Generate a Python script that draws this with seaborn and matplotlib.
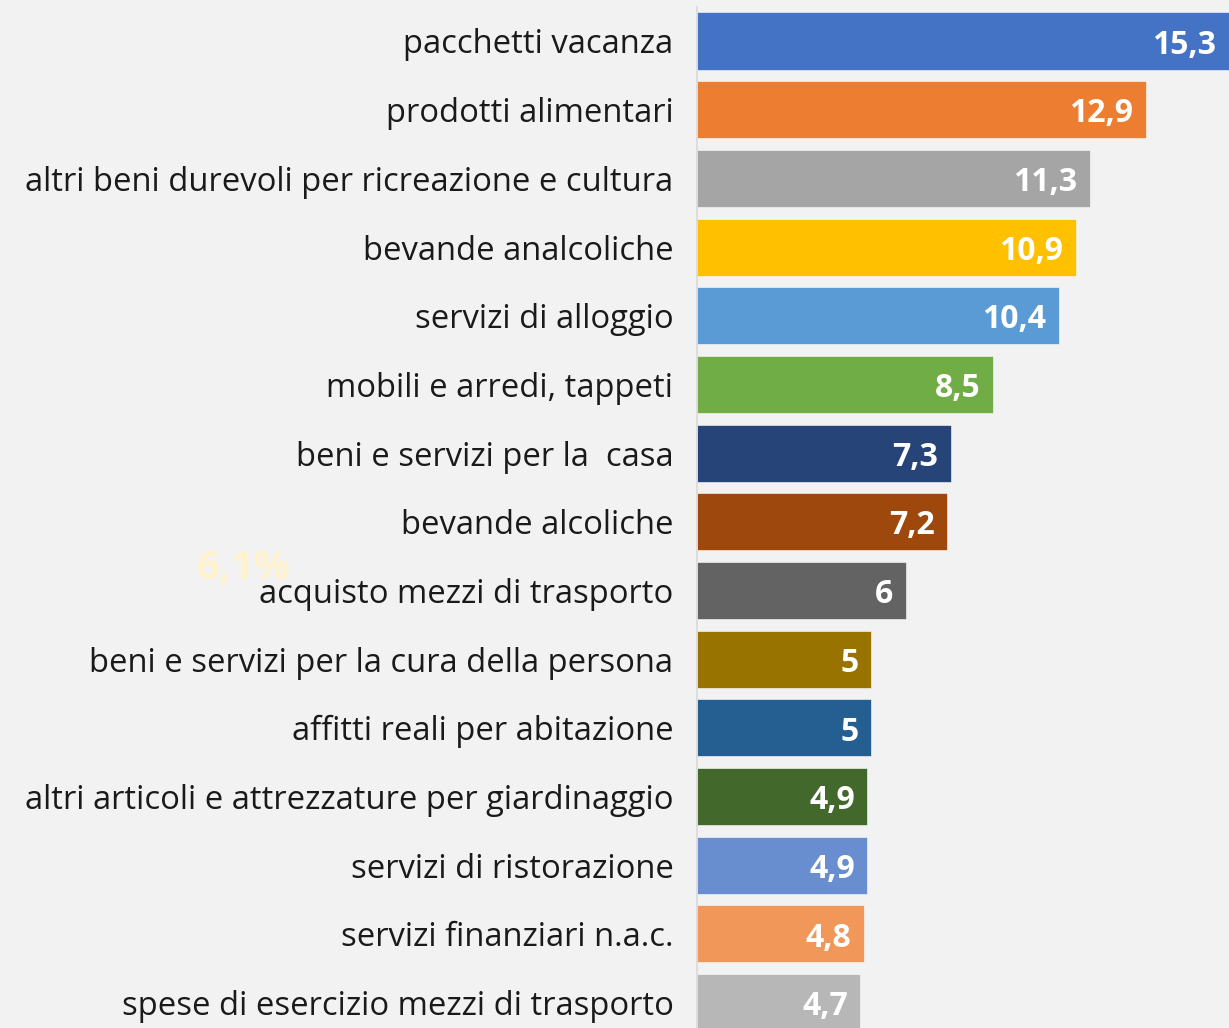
import matplotlib
matplotlib.use("Agg")
import matplotlib.pyplot as plt
import seaborn as sns
import pandas as pd

categories = [
    "pacchetti vacanza",
    "prodotti alimentari",
    "altri beni durevoli per ricreazione e cultura",
    "bevande analcoliche",
    "servizi di alloggio",
    "mobili e arredi, tappeti",
    "beni e servizi per la  casa",
    "bevande alcoliche",
    "acquisto mezzi di trasporto",
    "beni e servizi per la cura della persona",
    "affitti reali per abitazione",
    "altri articoli e attrezzature per giardinaggio",
    "servizi di ristorazione",
    "servizi finanziari n.a.c.",
    "spese di esercizio mezzi di trasporto",
]
values = [15.3, 12.9, 11.3, 10.9, 10.4, 8.5, 7.3, 7.2, 6, 5, 5, 4.9, 4.9, 4.8, 4.7]
colors = ["#4472C4", "#ED7D31", "#A5A5A5", "#FFC000", "#5B9BD5", "#70AD47",
          "#264478", "#9E480E", "#636363", "#997300", "#255E91", "#43682B",
          "#698ED0", "#F1975A", "#B7B7B7"]

sns.set_style("white")
plt.rcParams["font.family"] = ["Open Sans", "DejaVu Sans"]

df = pd.DataFrame({"cat": categories, "val": values})

fig = plt.figure(figsize=(12.29, 10.28), dpi=100, facecolor="#F2F2F2")
ax = fig.add_axes([697 / 1229, 0.0, 1 - 697 / 1229, 1 - 7 / 1028])
ax.set_facecolor("#F2F2F2")

sns.barplot(data=df, y="cat", x="val", hue="cat", palette=colors, legend=False,
            orient="h", width=0.83, ax=ax, saturation=1,
            edgecolor="#FFFFFF", linewidth=0.4)

ax.set_xlim(0, 15.3)
ax.set_ylim(14.37, -0.495)
ax.set_xlabel("")
ax.set_ylabel("")
ax.set_xticks([])
for s in ["top", "right", "bottom"]:
    ax.spines[s].set_visible(False)
ax.spines["left"].set_color("#D9D9D9")
ax.spines["left"].set_linewidth(1.2)
ax.tick_params(axis="y", length=0, pad=17, labelsize=23.6, labelcolor="#1A1A1A")

def fmt(v):
    s = f"{v:.1f}".replace(".", ",")
    if s.endswith(",0"):
        s = s[:-2]
    return s

for i, v in enumerate(values):
    ax.annotate(fmt(v), xy=(v, i), xytext=(-9, -3), textcoords="offset points",
                ha="right", va="center", color="white", fontsize=23,
                fontweight="bold")

fig.text(197 / 1229, 1 - 568 / 1028, "6,1%", color="#FFF2CC", fontsize=29,
         fontweight="bold", ha="left", va="center")

fig.savefig("out.png", dpi=100, facecolor=fig.get_facecolor())
